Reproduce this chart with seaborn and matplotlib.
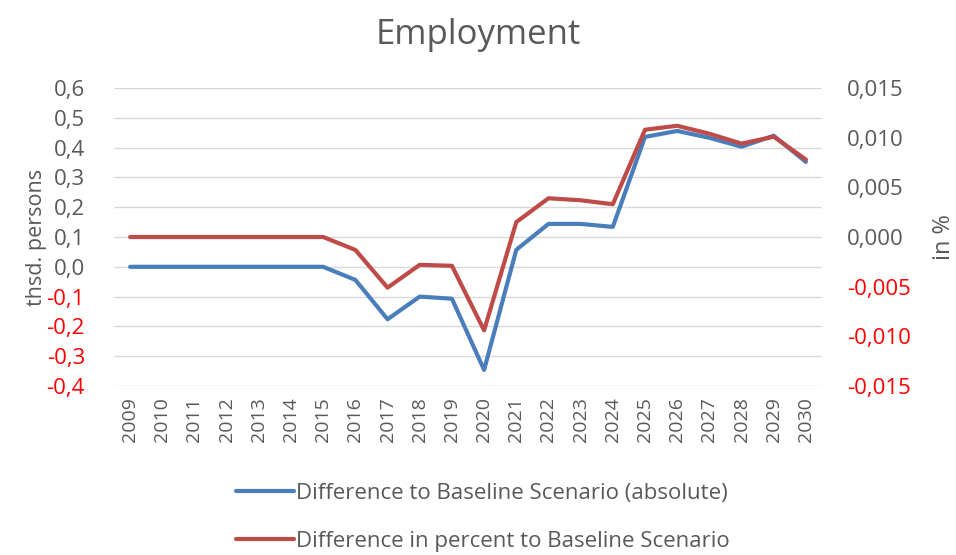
import matplotlib
matplotlib.use("Agg")
import matplotlib.pyplot as plt
import seaborn as sns
import pandas as pd

years = list(range(2009, 2031))
diff_absolute = [0.0, 0.0, 0.0, 0.0, 0.0, 0.0, 0.0, -0.044, -0.176, -0.100, -0.107,
                 -0.346, 0.057, 0.144, 0.144, 0.134, 0.436, 0.456, 0.433, 0.403,
                 0.440, 0.352]
diff_percent = [0.0, 0.0, 0.0, 0.0, 0.0, 0.0, 0.0, -0.0013, -0.0051, -0.0028, -0.0029,
                -0.0094, 0.0015, 0.0039, 0.0037, 0.0033, 0.0108, 0.0112, 0.0104,
                0.0094, 0.0101, 0.0078]
left_ticks = [-0.4, -0.3, -0.2, -0.1, 0.0, 0.1, 0.2, 0.3, 0.4, 0.5, 0.6]
right_ticks = [-0.015, -0.010, -0.005, 0.0, 0.005, 0.010, 0.015]

label_abs = "Difference to Baseline Scenario (absolute)"
label_pct = "Difference in percent to Baseline Scenario"

sns.set_style("white")
plt.rcParams["font.family"] = ["Open Sans", "DejaVu Sans"]

df = pd.DataFrame({"idx": range(len(years)), "year": years,
                   "absolute": diff_absolute, "percent": diff_percent})

grey = "#595959"
blue = "#4A7EBB"
red = "#BE4B48"

fig = plt.figure(figsize=(9.56, 5.55), dpi=100)
ax = fig.add_axes([0.1193, 0.3045, 0.7405, 0.5369])
ax2 = ax.twinx()

sns.lineplot(data=df, x="idx", y="absolute", ax=ax, color=blue, linewidth=3.0,
             label=label_abs, legend=False)
sns.lineplot(data=df, x="idx", y="percent", ax=ax2, color=red, linewidth=3.0,
             label=label_pct, legend=False)

ax.set_xlim(-0.5, len(years) - 0.5)
ax.set_ylim(left_ticks[0], left_ticks[-1])
ax2.set_ylim(right_ticks[0], right_ticks[-1])

ax.set_yticks(left_ticks)
ax.set_yticklabels([f"{v:.1f}".replace(".", ",") for v in left_ticks])
ax2.set_yticks(right_ticks)
ax2.set_yticklabels([f"{v:.3f}".replace(".", ",") for v in right_ticks])

for lab, v in zip(ax.get_yticklabels(), left_ticks):
    lab.set_color("#FF0000" if v < 0 else grey)
for lab, v in zip(ax2.get_yticklabels(), right_ticks):
    lab.set_color("#FF0000" if v < 0 else grey)

ax.set_xticks(range(len(years)))
ax.set_xticklabels([str(y) for y in years], rotation=90, color=grey, fontsize=14)
ax.tick_params(axis="y", labelsize=16, length=0, pad=21)
ax2.tick_params(axis="y", labelsize=16, length=0, pad=18)
ax.tick_params(axis="x", length=0, pad=8)

ax.yaxis.grid(True, color="#D9D9D9", linewidth=1.0)
ax.set_axisbelow(True)
for a in (ax, ax2):
    for s in a.spines.values():
        s.set_visible(False)

ax.set_xlabel("")
ax.set_ylabel("thsd. persons", fontsize=15.5, color=grey, labelpad=0)
ax2.set_ylabel("in %", fontsize=17, color=grey, labelpad=15)

fig.suptitle("Employment", fontsize=25, color=grey, y=0.968)

h1, l1 = ax.get_legend_handles_labels()
h2, l2 = ax2.get_legend_handles_labels()
fig.legend(h1 + h2, l1 + l2, loc="upper center", bbox_to_anchor=(0.505, 0.138),
           ncol=1, frameon=False, fontsize=16, labelcolor=grey,
           handlelength=2.6, handletextpad=0.1, labelspacing=1.2,
           borderaxespad=0.0, borderpad=0.2)

fig.savefig("out.png", dpi=100)
